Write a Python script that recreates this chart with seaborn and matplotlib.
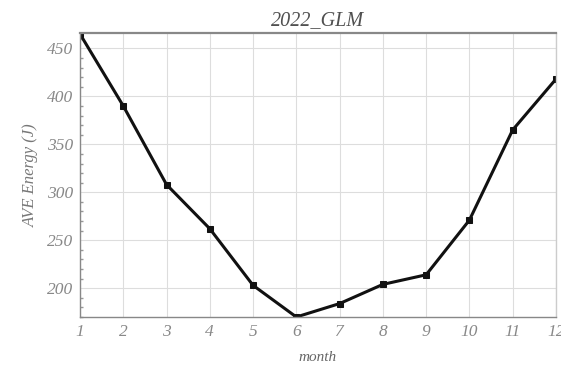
import matplotlib
matplotlib.use("Agg")
import matplotlib.pyplot as plt
from matplotlib.ticker import MultipleLocator
import seaborn as sns
import pandas as pd

months = [1, 2, 3, 4, 5, 6, 7, 8, 9, 10, 11, 12]
ave_energy = [465, 390, 308, 262, 203, 170, 184, 204, 214, 271, 365, 418]

df = pd.DataFrame({"month": months, "energy": ave_energy})

sns.set_theme(style="white")
plt.rcParams["font.family"] = ["Liberation Serif", "DejaVu Serif"]

fig = plt.figure(figsize=(5.61, 3.65), dpi=100)
ax = fig.add_axes([0.1426, 0.1315, 0.8484, 0.778])

sns.lineplot(data=df, x="month", y="energy", ax=ax, color="#111111",
             linewidth=2.2, marker="s", markersize=4.5,
             markeredgecolor="#111111", markerfacecolor="#111111")

ax.set_xlim(1, 12)
ax.set_ylim(170, 466)
ax.set_xticks(months)
ax.yaxis.set_major_locator(MultipleLocator(50))
ax.yaxis.set_minor_locator(MultipleLocator(10))

ax.grid(True, which="major", color="#dddddd", linewidth=0.8)
ax.set_axisbelow(True)

tick_color = "#888888"
ax.tick_params(axis="both", which="major", direction="in", length=4,
               color="#888888", labelcolor=tick_color, labelsize=12.5, pad=5)
ax.tick_params(axis="y", which="minor", direction="in", length=2,
               color="#999999", left=True)
for lab in ax.get_xticklabels() + ax.get_yticklabels():
    lab.set_fontstyle("italic")

for side in ["left", "bottom"]:
    ax.spines[side].set_color("#888888")
    ax.spines[side].set_linewidth(1.0)
ax.spines["top"].set_color("#888888")
ax.spines["top"].set_linewidth(1.6)
ax.spines["right"].set_color("#cccccc")
ax.spines["right"].set_linewidth(1.0)

ax.set_title("2022_GLM", fontsize=14.5, fontstyle="italic", color="#505050", pad=6)
ax.set_xlabel("month", fontsize=11, fontstyle="italic", color="#666666", labelpad=8)
ax.set_ylabel("AVE Energy (J)", fontsize=12, fontstyle="italic", color="#777777", labelpad=6)

fig.savefig("out.png", dpi=100)
